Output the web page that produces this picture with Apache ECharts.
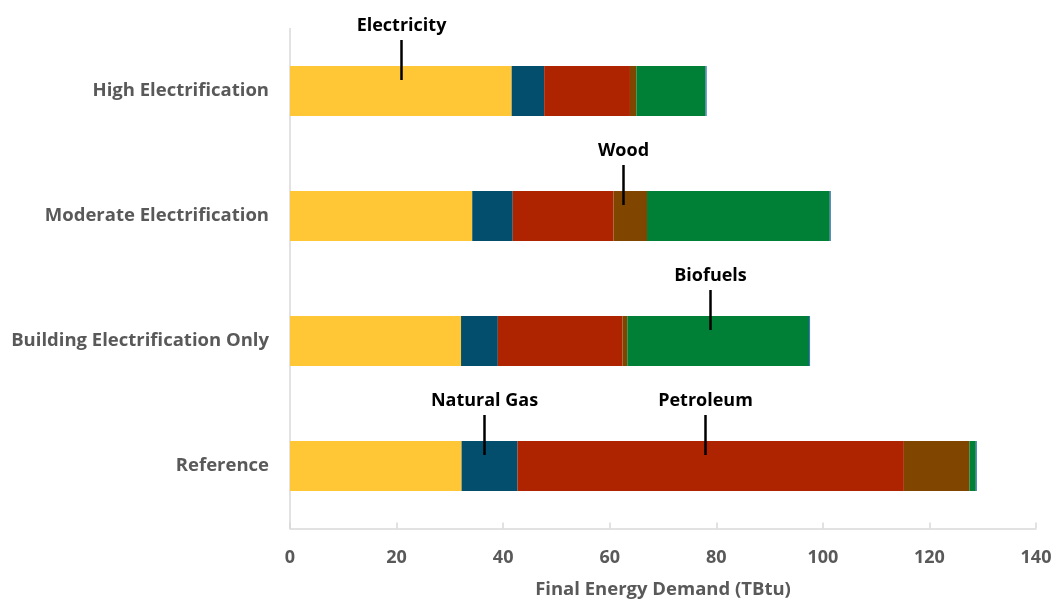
<!DOCTYPE html>
<html>
<head>
<meta charset="utf-8">
<title>Final Energy Demand by Scenario</title>
<script src="https://cdn.jsdelivr.net/npm/echarts@6/dist/echarts.min.js"></script>
<style>
  html, body { margin: 0; padding: 0; background: #ffffff; }
  #chart { width: 1059px; height: 605px; }
</style>
</head>
<body>
<div id="chart"></div>
<script>
// Scenarios, listed bottom to top on the category axis
const scenarios = ['Reference', 'Building Electrification Only', 'Moderate Electrification', 'High Electrification'];

// Final energy demand by fuel (TBtu), one value per scenario
const electricity = [32.2, 32.1, 34.2, 41.6];
const naturalGas  = [10.5, 6.9, 7.6, 6.1];
const petroleum   = [72.5, 23.4, 18.9, 16.1];
const wood        = [12.3, 0.9, 6.3, 1.2];
const biofuels    = [1.2, 34.1, 34.3, 13.0];
const otherFuels  = [0.2, 0.2, 0.2, 0.2];

// Value axis ticks
const xTicks = [0, 20, 40, 60, 80, 100, 120, 140];

// Call-out labels: fuel name, value-axis position, scenario index
const calloutNames  = ['Electricity', 'Wood', 'Biofuels', 'Natural Gas', 'Petroleum'];
const calloutValues = [20.8, 62.5, 78.8, 36.5, 77.9];
const calloutRows   = [3, 2, 1, 0, 0];

const fuels = [
  { name: 'Electricity', data: electricity, color: '#FFC636' },
  { name: 'Natural Gas', data: naturalGas,  color: '#034D6D' },
  { name: 'Petroleum',   data: petroleum,   color: '#AE2300' },
  { name: 'Wood',        data: wood,        color: '#804600' },
  { name: 'Biofuels',    data: biofuels,    color: '#007F36' },
  { name: 'Other',       data: otherFuels,  color: '#4472C4' }
];

const labelFont = '"Open Sans", "Liberation Sans", sans-serif';

const chart = echarts.init(document.getElementById('chart'), null, { renderer: 'canvas' });

const barSeries = fuels.map(f => ({
  name: f.name,
  type: 'bar',
  stack: 'total',
  barWidth: '40%',
  itemStyle: { color: f.color },
  emphasis: { disabled: true },
  data: f.data
}));

const calloutData = calloutNames.map((n, i) => [calloutValues[i], calloutRows[i], n]);

// Leader line from just inside the bar up to a bold fuel name
const calloutSeries = {
  type: 'custom',
  z: 10,
  silent: true,
  data: calloutData,
  encode: { x: 0, y: 1 },
  renderItem: function (params, api) {
    const p = api.coord([api.value(0), api.value(1)]);
    const band = api.size([0, 1])[1];
    const barTop = p[1] - band * 0.2;
    const x = Math.round(p[0]) + 0.5;
    return {
      type: 'group',
      children: [
        {
          type: 'line',
          shape: { x1: x, y1: barTop - 26, x2: x, y2: barTop + 14 },
          style: { stroke: '#000000', lineWidth: 2.5 }
        },
        {
          type: 'text',
          style: {
            x: x,
            y: barTop - 40,
            text: calloutData[params.dataIndex][2],
            textAlign: 'center',
            textVerticalAlign: 'middle',
            font: 'bold 18px ' + labelFont,
            fill: '#000000'
          }
        }
      ]
    };
  }
};

chart.setOption({
  animation: false,
  backgroundColor: '#ffffff',
  grid: { left: 290, right: 23, top: 28.5, bottom: 76.5, containLabel: false },
  xAxis: {
    type: 'value',
    min: xTicks[0],
    max: xTicks[xTicks.length - 1],
    interval: xTicks[1] - xTicks[0],
    name: 'Final Energy Demand (TBtu)',
    nameLocation: 'middle',
    nameGap: 52,
    nameTextStyle: { color: '#595959', fontSize: 18.5, fontWeight: 'bold', fontFamily: labelFont },
    axisLine: { show: true, lineStyle: { color: '#D9D9D9', width: 1.5 } },
    axisTick: { show: true, inside: true, length: 6, lineStyle: { color: '#D9D9D9', width: 1.5 } },
    axisLabel: { color: '#595959', fontSize: 18, fontWeight: 'bold', fontFamily: labelFont, margin: 20 },
    splitLine: { show: false }
  },
  yAxis: {
    type: 'category',
    data: scenarios,
    axisLine: { show: true, lineStyle: { color: '#D9D9D9', width: 1.5 } },
    axisTick: { show: false },
    axisLabel: { color: '#595959', fontSize: 18.5, fontWeight: 'bold', fontFamily: labelFont, margin: 21 },
    splitLine: { show: false }
  },
  series: barSeries.concat([calloutSeries])
});
</script>
</body>
</html>
